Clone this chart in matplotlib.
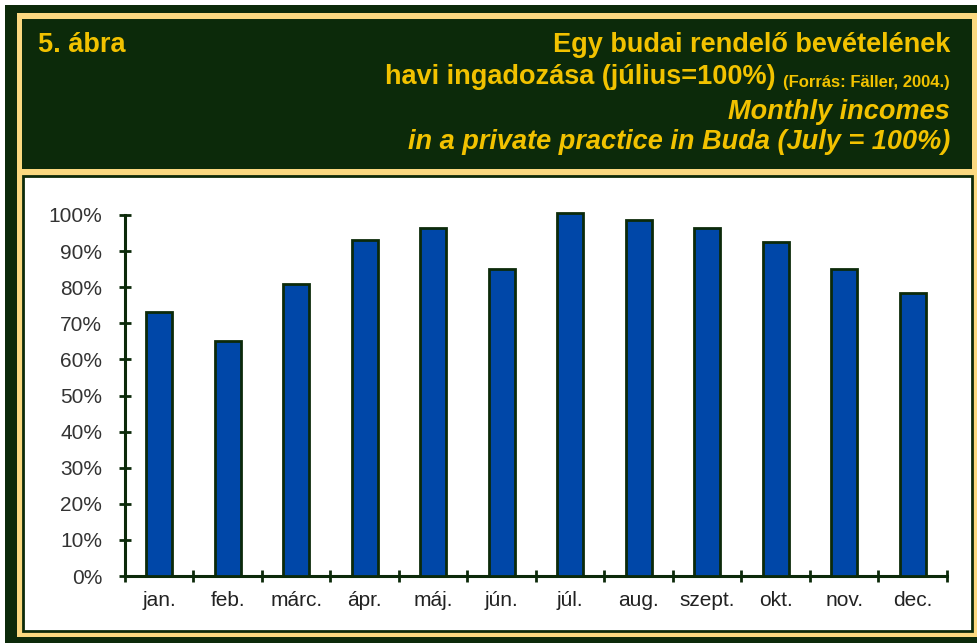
import matplotlib.pyplot as plt
from matplotlib.patches import Rectangle

months = ["jan.", "feb.", "márc.", "ápr.", "máj.", "jún.", "júl.", "aug.", "szept.", "okt.", "nov.", "dec."]
values = [73, 65, 81, 93, 96.5, 85, 100.5, 98.5, 96.5, 92.5, 85, 78.5]
yticks = [0, 10, 20, 30, 40, 50, 60, 70, 80, 90, 100]

dark = "#0c2a0a"
yellow = "#fbd980"
gold = "#f2c200"
blue = "#0047a8"

W, H = 978, 643
plt.rcParams['font.family'] = ['Liberation Sans', 'DejaVu Sans']
fig = plt.figure(figsize=(W / 100, H / 100), dpi=100, facecolor=dark)


def box(x0, y0, x1, y1, **kw):
    # pixel coords, y from top
    fig.add_artist(Rectangle((x0 / W, 1 - y1 / H), (x1 - x0) / W, (y1 - y0) / H,
                             transform=fig.transFigure, zorder=-5, **kw))


box(0, 0, W, 5, facecolor="white", edgecolor="none")
box(0, 0, 5, H, facecolor="white", edgecolor="none")
box(17, 13, 977, 637, facecolor=yellow, edgecolor="none")
box(22, 19, 972, 169, facecolor=dark, edgecolor="none")
box(23, 176, 972, 631, facecolor="white", edgecolor=dark, linewidth=2)

# header text
fs = 19.5
fig.text(38 / W, 1 - 45 / H, "5. ábra", color=gold, fontsize=fs, fontweight="bold", va="center")
fig.text(950 / W, 1 - 45 / H, "Egy budai rendelő bevételének", color=gold, fontsize=fs,
         fontweight="bold", ha="right", va="center")
src = fig.text(950 / W, 1 - 87 / H, "(Forrás: Fäller, 2004.)", color=gold, fontsize=12,
               fontweight="bold", ha="right", va="baseline")
ax = fig.add_axes([125 / W, 1 - 576 / H, (947 - 125) / W, (576 - 215) / H])
ax.annotate("havi ingadozása (július=100%) ", xy=(0, 0), xycoords=src, color=gold,
            fontsize=fs, fontweight="bold", ha="right", va="bottom", annotation_clip=False)
fig.text(950 / W, 1 - 112 / H, "Monthly incomes", color=gold, fontsize=fs,
         fontweight="bold", fontstyle="italic", ha="right", va="center")
fig.text(950 / W, 1 - 142 / H, "in a private practice in Buda (July = 100%)", color=gold,
         fontsize=fs, fontweight="bold", fontstyle="italic", ha="right", va="center")

# chart
ax.set_facecolor("none")
x = list(range(len(months)))
ax.bar(x, values, width=0.38, color=blue, edgecolor=dark, linewidth=2, clip_on=False, zorder=3)
ax.set_xlim(-0.5, len(months) - 0.5)
ax.set_ylim(0, 100)
ax.set_yticks(yticks)
ax.set_yticklabels([f"{v}%" for v in yticks], fontsize=15, color="#333333")
ax.set_xticks(x)
ax.set_xticklabels(months, fontsize=15, color="#222222")
ax.set_xticks([i - 0.5 for i in range(len(months) + 1)], minor=True)
ax.tick_params(axis="x", which="major", length=0, pad=11)
ax.tick_params(axis="x", which="minor", direction="inout", length=9, width=2, color=dark)
ax.tick_params(axis="y", direction="inout", length=9, width=2, color=dark, pad=12)
for s in ["top", "right"]:
    ax.spines[s].set_visible(False)
for s in ["left", "bottom"]:
    ax.spines[s].set_color(dark)
    ax.spines[s].set_linewidth(2.2)

fig.savefig("out.png", dpi=100, facecolor=dark)
